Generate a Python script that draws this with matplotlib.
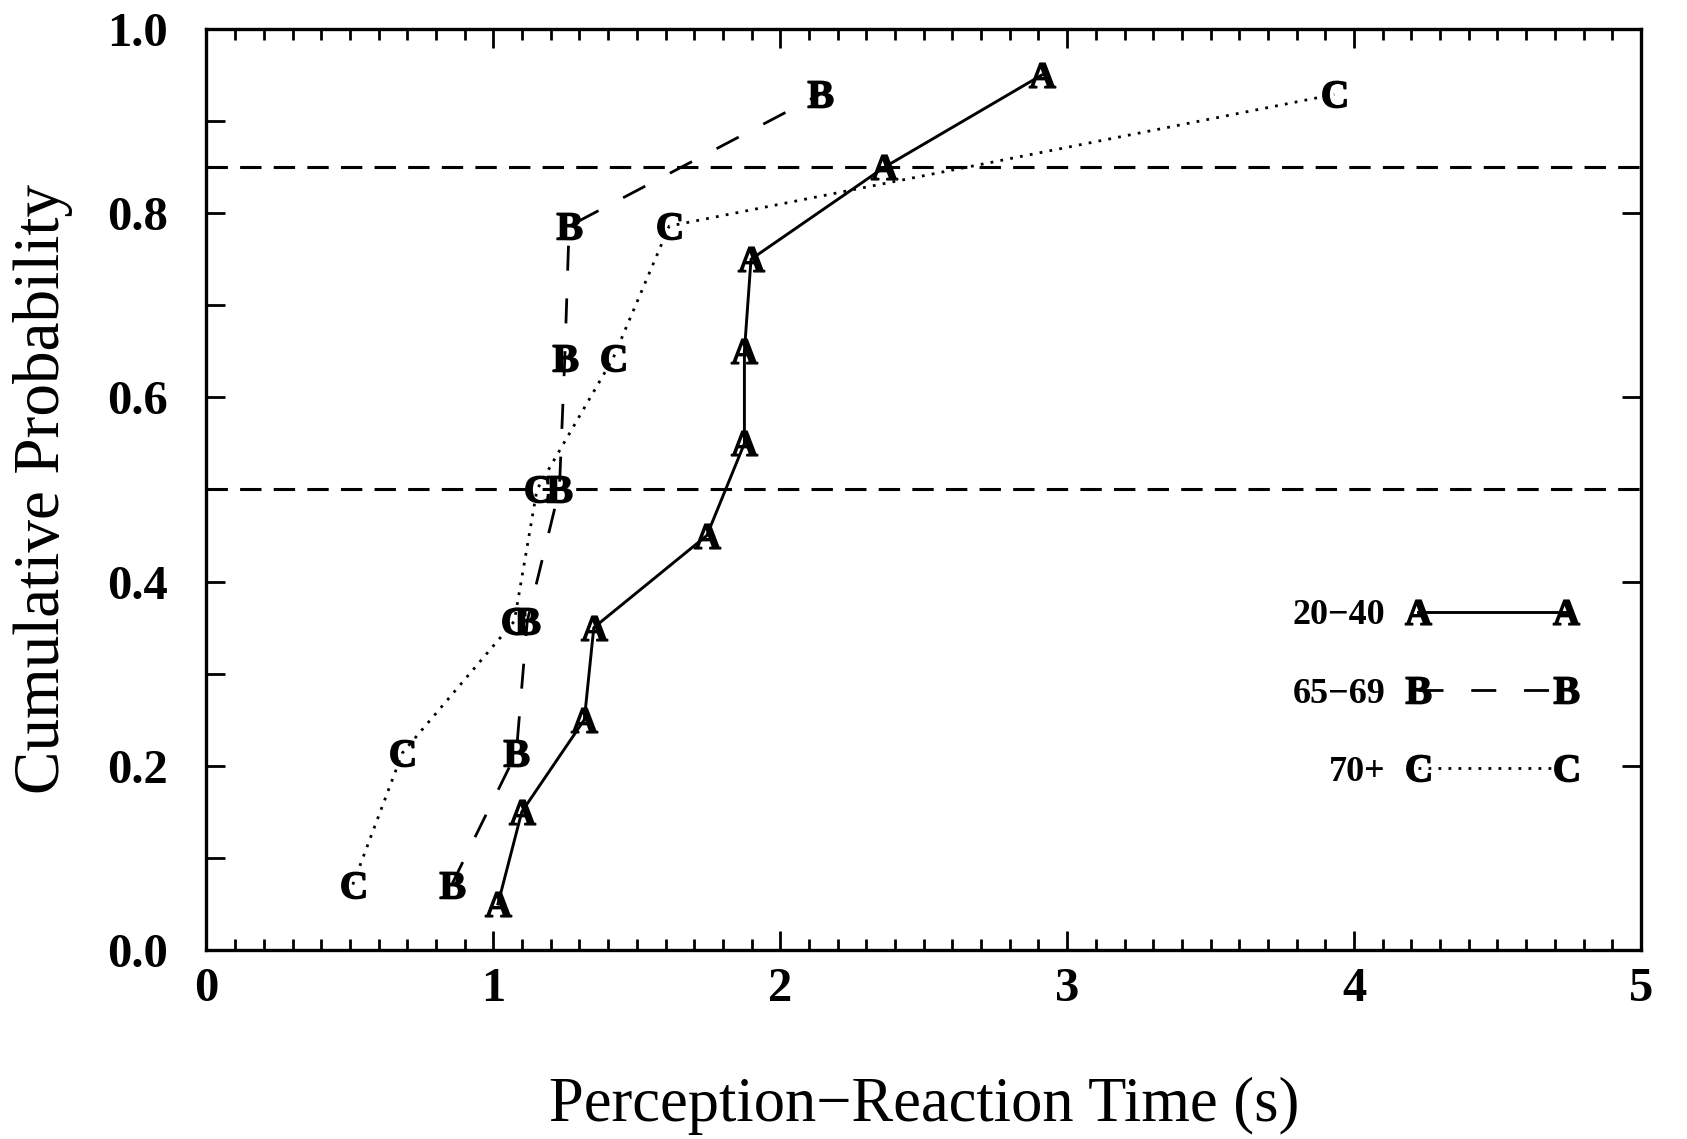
import matplotlib
matplotlib.use("Agg")
import matplotlib.pyplot as plt
from matplotlib.ticker import MultipleLocator, FormatStrFormatter

plt.rcParams['font.family'] = ['Liberation Serif', 'DejaVu Serif']
plt.rcParams['mathtext.fontset'] = 'custom'
plt.rcParams['mathtext.rm'] = 'Liberation Serif:bold'
plt.rcParams['mathtext.it'] = 'Liberation Serif:bold'
plt.rcParams['mathtext.bf'] = 'Liberation Serif:bold'

# perception-reaction time (s) vs cumulative probability, by age group
age_labels = ['20\u221240', '65\u221269', '70+']
letters = ['A', 'B', 'C']

time_a = [1.016, 1.099, 1.317, 1.350, 1.744, 1.875, 1.875, 1.898, 2.363, 2.911]
prob_a = [0.05, 0.15, 0.25, 0.35, 0.45, 0.55, 0.65, 0.75, 0.85, 0.95]

time_b = [0.855, 1.080, 1.118, 1.230, 1.249, 1.264, 2.138]
prob_b = [0.071, 0.214, 0.357, 0.500, 0.643, 0.786, 0.929]

time_c = [0.510, 0.683, 1.073, 1.152, 1.418, 1.613, 3.931]
prob_c = [0.071, 0.214, 0.357, 0.500, 0.643, 0.786, 0.929]

ref_levels = [0.5, 0.85]

fig = plt.figure(figsize=(16.87, 11.39), dpi=100)
ax = fig.add_axes([0.1224, 0.166, 0.8503, 0.8085])

ax.plot(time_a, prob_a, color='black', lw=2.1, linestyle='-',
        marker=r'$\mathrm{A}$', markersize=19, label=age_labels[0])
ax.plot(time_b, prob_b, color='black', lw=2.0, linestyle=(0, (9, 10)),
        marker=r'$\mathrm{B}$', markersize=19, label=age_labels[1])
ax.plot(time_c, prob_c, color='black', lw=2.0, linestyle=(0, (1, 2.6)),
        marker=r'$\mathrm{C}$', markersize=19, label=age_labels[2])

for lev in ref_levels:
    ax.axhline(lev, color='black', lw=2.2, linestyle=(0, (7, 4)))

ax.set_xlim(0, 5)
ax.set_ylim(0, 1)
ax.xaxis.set_major_locator(MultipleLocator(1))
ax.xaxis.set_minor_locator(MultipleLocator(0.1))
ax.yaxis.set_major_locator(MultipleLocator(0.2))
ax.yaxis.set_minor_locator(MultipleLocator(0.1))
ax.yaxis.set_major_formatter(FormatStrFormatter('%.1f'))

ax.tick_params(axis='x', which='major', direction='in', top=True, bottom=True,
               length=14, width=2, pad=12, labelsize=35)
ax.tick_params(axis='x', which='minor', direction='in', top=True, bottom=True,
               length=8, width=2)
ax.tick_params(axis='y', which='major', direction='in', left=True, right=True,
               length=14, width=2, pad=28, labelsize=35)
ax.tick_params(axis='y', which='minor', direction='in', left=True, right=False,
               length=14, width=2)
for lab in ax.get_xticklabels() + ax.get_yticklabels():
    lab.set_fontweight('bold')

for sp in ax.spines.values():
    sp.set_linewidth(2.4)

ax.set_xlabel('Perception\u2212Reaction Time (s)', fontsize=45, labelpad=48)
ax.set_ylabel('Cumulative Probability', fontsize=47, labelpad=24)

leg = ax.legend(loc='center right', bbox_to_anchor=(0.978, 0.278),
                numpoints=2, markerfirst=False, frameon=False,
                handlelength=4.7, labelspacing=1.25, fontsize=26,
                handletextpad=0.6)
for t in leg.get_texts():
    t.set_fontweight('bold')

fig.savefig('out.png', dpi=100)
